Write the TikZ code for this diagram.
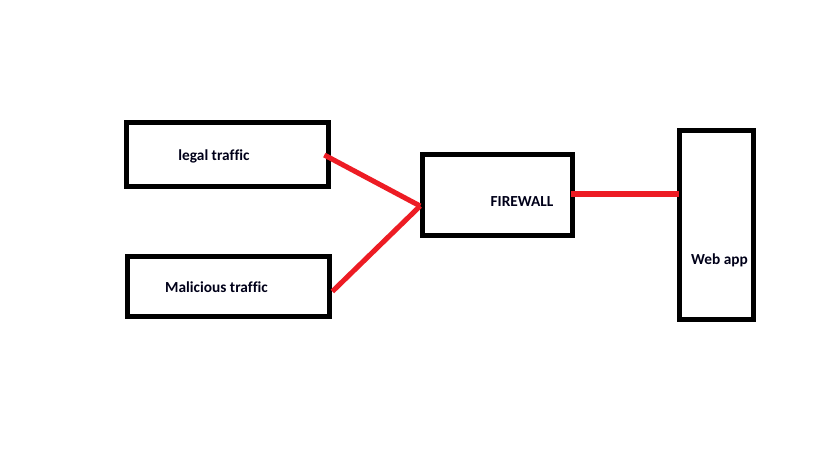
\documentclass[tikz,border=0pt]{standalone}
\usepackage{fontspec}
\setmainfont[Ligatures=NoCommon]{Carlito}
\definecolor{paintred}{RGB}{237,28,36}
\begin{document}
\begin{tikzpicture}[x=0.75pt,y=-0.75pt,
  box/.style={draw=black,line width=3.5pt,minimum width=#1,inner sep=0pt},
  lbl/.style={font=\fontsize{11.5pt}{13pt}\selectfont\bfseries,inner sep=0pt,text=black!90!blue},
  wire/.style={draw=paintred,line width=3.8pt}]
\useasboundingbox[fill=white] (0,0) rectangle (819,460);
% boxes (centre-line geometry in px)
\node[box=202*0.75pt,minimum height=64*0.75pt] (legal) at (227.5,154.5) {};
\node[box=202*0.75pt,minimum height=60*0.75pt] (malicious) at (228.5,286.5) {};
\node[box=150*0.75pt,minimum height=81*0.75pt] (firewall) at (497.5,195) {};
\node[box=74*0.75pt,minimum height=189*0.75pt] (webapp) at (716.5,225) {};
% texts
\node[lbl] (tlegal) at (214,156) {legal traffic};
\node[lbl] (tmal) at (216.5,287.5) {Malicious traffic};
\node[lbl] (tfw) at (522,201.5) {FIREWALL};
\node[lbl] (tweb) at (719.5,260.5) {Web app};
% connector end points
\coordinate (a1) at ([xshift=-6.5*0.75pt,yshift=-0.5*0.75pt]legal.east);
\coordinate (a2) at ([xshift=0.5*0.75pt,yshift=-5*0.75pt]malicious.east);
\coordinate (f1) at ([yshift=-11*0.75pt]firewall.west);
\coordinate (f2) at ([xshift=-3.5*0.75pt,yshift=1*0.75pt]firewall.east);
\coordinate (w1) at ([xshift=1.5*0.75pt,yshift=31*0.75pt]webapp.west);
\draw[wire] (a1) -- (f1);
\draw[wire] (a2) -- (f1);
\draw[wire] (f2) -- (w1);
\end{tikzpicture}
\end{document}
